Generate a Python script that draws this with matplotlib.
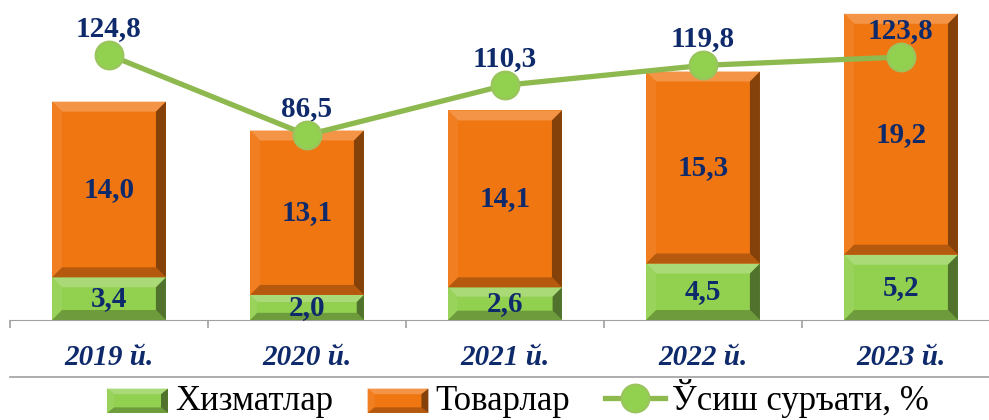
import numpy as np
import matplotlib.pyplot as plt
from matplotlib.patches import Polygon, Rectangle
from matplotlib.lines import Line2D
from matplotlib.legend_handler import HandlerBase

# data
years = ['2019 й.', '2020 й.', '2021 й.', '2022 й.', '2023 й.']
services = [3.4, 2.0, 2.6, 4.5, 5.2]      # Хизматлар
goods = [14.0, 13.1, 14.1, 15.3, 19.2]    # Товарлар
growth = [124.8, 86.5, 110.3, 119.8, 123.8]  # Ўсиш суръати, %

green = '#92D050'
orange = '#F07612'
line_col = '#8DB94E'
navy = '#0E2A6B'

plt.rcParams['font.family'] = ['Liberation Serif', 'DejaVu Serif']

fig = plt.figure(figsize=(9.89, 4.2), dpi=100)
ax = fig.add_axes([10 / 989, 100 / 420, 990 / 989, 320 / 420])
ax2 = ax.twinx()

x = np.arange(len(years))
width = 0.575

b1 = ax.bar(x, services, width, color=green, label='Хизматлар', zorder=2)
b2 = ax.bar(x, goods, width, bottom=services, color=orange, label='Товарлар', zorder=2)

ax.set_xlim(-0.5, 4.5)
ax.set_ylim(0, 25.5)
ax2.set_ylim(-2.06, 151.1)


def shade(c, f):
    c = np.array(plt.matplotlib.colors.to_rgb(c))
    if f > 0:
        return tuple(c + (1 - c) * f)
    return tuple(c * (1 + f))


def bevel_polys(x0, y0, x1, y1, b, base):
    # four beveled edges, coords in whatever space given
    bx, by = b
    top = [(x0, y1), (x1, y1), (x1 - bx, y1 - by), (x0 + bx, y1 - by)]
    bot = [(x0, y0), (x1, y0), (x1 - bx, y0 + by), (x0 + bx, y0 + by)]
    left = [(x0, y0), (x0 + bx, y0 + by), (x0 + bx, y1 - by), (x0, y1)]
    right = [(x1, y0), (x1 - bx, y0 + by), (x1 - bx, y1 - by), (x1, y1)]
    return [(top, shade(base, 0.22)), (left, shade(base, 0.06)),
            (bot, shade(base, -0.25)), (right, shade(base, -0.45))]


# bevel in pixel size converted to data units
px_x = 1.0 / 198
px_y = 25.5 / 320
for bars, base in [(b1, green), (b2, orange)]:
    for p in bars:
        x0, y0 = p.get_x(), p.get_y()
        x1, y1 = x0 + p.get_width(), y0 + p.get_height()
        bpx = min(10, p.get_height() / px_y / 3.5)
        for pts, col in bevel_polys(x0, y0, x1, y1, (bpx * px_x, bpx * px_y), base):
            ax.add_patch(Polygon(pts, closed=True, facecolor=col, edgecolor='none', zorder=3))

# segment labels
for i in range(len(years)):
    ax.text(x[i], services[i] / 2, f'{services[i]:.1f}'.replace('.', ','),
            ha='center', va='center', fontsize=21, fontweight='bold', color=navy, zorder=5)
    ax.text(x[i], services[i] + goods[i] / 2, f'{goods[i]:.1f}'.replace('.', ','),
            ha='center', va='center', fontsize=21, fontweight='bold', color=navy, zorder=5)

ax2.plot(x, growth, color=line_col, lw=3.8, marker='o', markersize=20,
         markerfacecolor=green, markeredgecolor='#9BC45E', markeredgewidth=1.5,
         label='Ўсиш суръати, %', zorder=4)
for i, v in enumerate(growth):
    ax2.annotate(f'{v:.1f}'.replace('.', ','), (x[i], v), xytext=(0, 19),
                 textcoords='offset points', ha='center', va='center',
                 fontsize=21, fontweight='bold', color=navy)

for a in (ax, ax2):
    for s in ['top', 'right', 'left']:
        a.spines[s].set_visible(False)
    a.set_yticks([])
ax2.spines['bottom'].set_visible(False)
ax.spines['bottom'].set_color('#A0A0A0')
ax.set_xticks(x)
ax.set_xticklabels(years, fontsize=21, fontweight='bold', fontstyle='italic', color=navy)
ax.tick_params(axis='x', which='major', length=0, pad=17)
ax.set_xticks(np.arange(-0.5, 5, 1), minor=True)
ax.tick_params(axis='x', which='minor', length=6, color='#A0A0A0', width=1.2)

fig.add_artist(Line2D([10 / 989, 1], [1 - 377 / 420] * 2, transform=fig.transFigure,
                      color='#A0A0A0', lw=1.2))


class BevelHandler(HandlerBase):
    def create_artists(self, legend, orig, xd, yd, w, h, fs, trans):
        base = orig.get_facecolor()
        y0 = -yd - h * 0.1
        hh = h
        arts = [Rectangle((-xd, y0), w, hh, facecolor=base, edgecolor='none', transform=trans)]
        for pts, col in bevel_polys(-xd, y0, -xd + w, y0 + hh, (5, 4), base):
            arts.append(Polygon(pts, closed=True, facecolor=col, edgecolor='none', transform=trans))
        return arts


handles = [b1.patches[0], b2.patches[0], ax2.lines[0]]
labels = ['Хизматлар', 'Товарлар', 'Ўсиш суръати, %']
leg = fig.legend(handles, labels, loc='center', bbox_to_anchor=(0.524, 1 - 399 / 420),
                 ncol=3, frameon=False, fontsize=25, handlelength=1.75, handletextpad=0.2,
                 columnspacing=1.0, borderpad=0,
                 handler_map={b1.patches[0]: BevelHandler(), b2.patches[0]: BevelHandler()})

fig.savefig('out.png', dpi=100)
